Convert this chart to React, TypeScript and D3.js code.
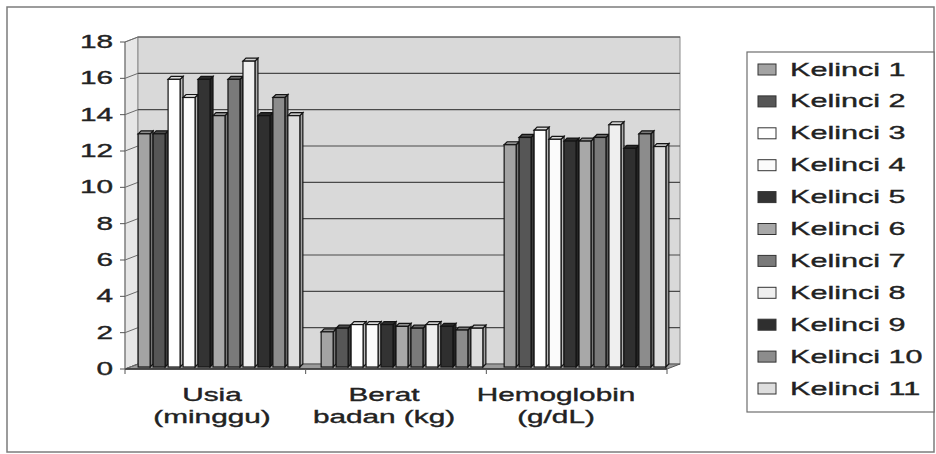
import * as d3 from "d3";

// data
const categories = ["Usia (minggu)", "Berat badan (kg)", "Hemoglobin (g/dL)"];
const categoryLines = [["Usia", "(minggu)"], ["Berat", "badan (kg)"], ["Hemoglobin", "(g/dL)"]];
const seriesNames = [
  "Kelinci 1", "Kelinci 2", "Kelinci 3", "Kelinci 4", "Kelinci 5", "Kelinci 6",
  "Kelinci 7", "Kelinci 8", "Kelinci 9", "Kelinci 10", "Kelinci 11",
];
const usia = [13, 13, 16, 15, 16, 14, 16, 17, 14, 15, 14];
const beratBadan = [2.1, 2.3, 2.5, 2.5, 2.5, 2.4, 2.3, 2.5, 2.4, 2.2, 2.3];
const hemoglobin = [12.4, 12.8, 13.2, 12.7, 12.6, 12.6, 12.8, 13.5, 12.2, 13.0, 12.3];
const yTicks = [0, 2, 4, 6, 8, 10, 12, 14, 16, 18];

const seriesColors = [
  "#a3a3a3", "#565656", "#ffffff", "#fbfbfb", "#333333", "#a8a8a8",
  "#7a7a7a", "#efefef", "#2f2f2f", "#8c8c8c", "#dedede",
];

const W = 936;
const H = 454;
const font = "'Liberation Sans', Arial, sans-serif";
const SX = 1.7; // the scan is stretched sideways
const depth = { dx: 13, dy: -5 };

const StretchText = ({ x, y, anchor = "start", size = 17.5, children }: any) => (
  <g transform={`translate(${x},${y}) scale(${SX},1)`}>
    <text
      x={0} y={0} textAnchor={anchor} fontFamily={font} fontSize={size}
      fill="#222" stroke="#222" strokeWidth={0.35}
    >
      {children}
    </text>
  </g>
);

export default function App() {
  const values = [usia, beratBadan, hemoglobin];

  const front = { left: 125, right: 667, bottom: 369, top: 42 };
  const y = d3.scaleLinear().domain([0, 18]).range([front.bottom, front.top]);
  const xFront = d3.scaleBand().domain(categories).range([front.left, front.right]);
  const xBars = d3.scaleBand().domain(categories).range([129, 678]).paddingInner(0.1).paddingOuter(0.05);
  const xSeries = d3.scaleBand().domain(seriesNames).range([0, xBars.bandwidth()]);
  const xLabel = d3.scalePoint().domain(categories).range([212, 556]);
  const barBottom = 367;
  const bw = xSeries.bandwidth();
  const cap = 3;

  const backL = front.left + depth.dx;
  const backR = front.right + depth.dx;
  const backB = front.bottom + depth.dy;
  const backT = front.top + depth.dy;

  const legendY = d3.scaleLinear().domain([0, seriesNames.length - 1]).range([69, 388]);

  return (
    <svg width={W} height={H} style={{ position: "absolute", left: 0, top: 0 }}>
      <rect x={0} y={0} width={W} height={H} fill="#ffffff" />
      <rect x={7} y={7} width={927} height={445} fill="none" stroke="#7c7c7c" strokeWidth={1.5} />

      {/* walls and floor */}
      <polygon
        points={`${front.left},${front.bottom} ${front.left},${front.top} ${backL},${backT} ${backL},${backB}`}
        fill="#e6e6e6" stroke="#8a8a8a" strokeWidth={1}
      />
      <rect x={backL} y={backT} width={backR - backL} height={backB - backT} fill="#d9d9d9" stroke="#8a8a8a" strokeWidth={1} />
      <polygon
        points={`${front.left},${front.bottom} ${backL},${backB} ${backR},${backB} ${front.right},${front.bottom}`}
        fill="#9a9a9a" stroke="#555" strokeWidth={1}
      />

      {/* gridlines */}
      {yTicks.map((t) => (
        <g key={t}>
          <line x1={front.left} y1={y(t)} x2={backL} y2={y(t) + depth.dy} stroke="#6a6a6a" strokeWidth={1} />
          {t > 0 && (
            <line x1={backL} y1={y(t) + depth.dy} x2={backR} y2={y(t) + depth.dy} stroke="#4a4a4a" strokeWidth={1.2} />
          )}
        </g>
      ))}

      {/* bars */}
      {categories.map((c, ci) => (
        <g key={c}>
          {seriesNames.map((s, si) => {
            const v = values[ci][si];
            const x0 = (xBars(c) as number) + (xSeries(s) as number);
            const top = y(v) + 1;
            const fw = bw - cap;
            const col = seriesColors[si];
            const side = d3.color(col)!.darker(0.9).formatHex();
            const topCol = d3.color(col)!.darker(0.4).formatHex();
            return (
              <g key={s} stroke="#141414" strokeWidth={1.2}>
                <polygon
                  points={`${x0 + fw},${barBottom} ${x0 + fw},${top} ${x0 + bw},${top - cap} ${x0 + bw},${barBottom - cap}`}
                  fill={side}
                />
                <polygon
                  points={`${x0},${top} ${x0 + cap},${top - cap} ${x0 + bw},${top - cap} ${x0 + fw},${top}`}
                  fill={topCol}
                />
                <rect x={x0} y={top} width={fw} height={barBottom - top} fill={col} />
              </g>
            );
          })}
        </g>
      ))}

      {/* front edge of the floor */}
      <line x1={front.left} y1={front.bottom} x2={front.right} y2={front.bottom} stroke="#333" strokeWidth={1.5} />
      <line x1={front.left} y1={front.bottom} x2={front.left} y2={front.top} stroke="#777" strokeWidth={1} />

      {/* y axis */}
      {yTicks.map((t) => (
        <g key={t}>
          <line x1={front.left - 5} y1={y(t)} x2={front.left} y2={y(t)} stroke="#555" strokeWidth={1} />
          <StretchText x={113} y={y(t) + 6} anchor="end">{t}</StretchText>
        </g>
      ))}

      {/* category ticks and labels */}
      {[...categories.map((c) => xFront(c) as number), front.right].map((tx, i) => (
        <line key={i} x1={tx} y1={front.bottom} x2={tx} y2={front.bottom + 5} stroke="#555" strokeWidth={1} />
      ))}
      {categories.map((c, ci) => (
        <g key={c}>
          <StretchText x={xLabel(c)} y={401} anchor="middle">{categoryLines[ci][0]}</StretchText>
          <StretchText x={xLabel(c)} y={423} anchor="middle">{categoryLines[ci][1]}</StretchText>
        </g>
      ))}

      {/* legend */}
      <rect x={747} y={52} width={187} height={360} fill="#ffffff" stroke="#6e6e6e" strokeWidth={1.2} />
      {seriesNames.map((s, i) => (
        <g key={s}>
          <rect x={758} y={legendY(i) - 5} width={18} height={11} fill={seriesColors[i]} stroke="#333" strokeWidth={1} />
          <StretchText x={790} y={legendY(i) + 6.5} size={18}>{s}</StretchText>
        </g>
      ))}
    </svg>
  );
}
